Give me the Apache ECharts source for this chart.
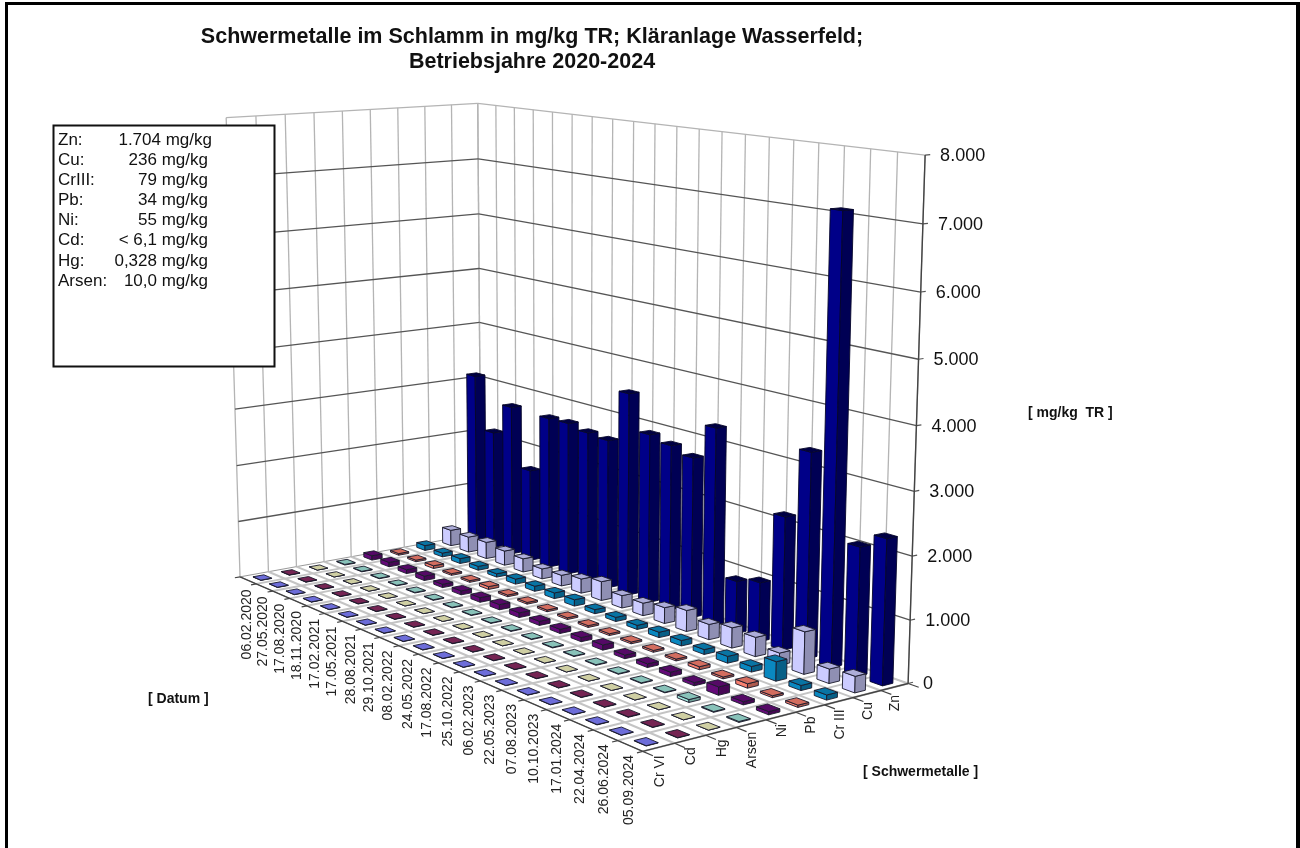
<!DOCTYPE html>
<html><head><meta charset="utf-8">
<style>html,body{margin:0;padding:0;background:#fff}#c{width:1300px;height:848px}</style>
<script src="https://cdn.jsdelivr.net/npm/echarts@6/dist/echarts.min.js"></script>
</head><body><div id="c"></div>
<script>
const titleText = 'Schwermetalle im Schlamm in mg/kg TR; Kläranlage Wasserfeld;\nBetriebsjahre 2020-2024';
const dates = ['06.02.2020','27.05.2020','17.08.2020','18.11.2020','17.02.2021','17.05.2021','28.08.2021','29.10.2021','08.02.2022','24.05.2022','17.08.2022','25.10.2022','06.02.2023','22.05.2023','07.08.2023','10.10.2023','17.01.2024','22.04.2024','26.06.2024','05.09.2024'];
const metals = ['Cr VI','Cd','Hg','Arsen','Ni','Pb','Cr III','Cu','Zn'];
const valueTicks = [0,1000,2000,3000,4000,5000,6000,7000,8000];
const crVI  = [5,5,5,5,5,5,5,5,5,5,5,5,5,5,5,5,5,6,5,5];
const cd    = [6,6,6,6,6,6,6,6,6,6,6,6,6,6,6,6,6,8,6,6];
const hg    = [0.3,0.3,0.3,0.3,0.3,0.3,0.3,0.3,0.3,0.3,0.3,0.3,0.3,0.3,0.3,0.3,0.3,0.5,0.3,0.3];
const arsen = [12,10,10,9,10,11,10,10,9,10,10,11,10,10,10,10,9,45,12,14];
const ni    = [80,80,70,80,60,70,80,90,80,70,70,70,85,60,60,70,50,130,50,50];
const pb    = [30,30,50,30,30,50,30,30,30,30,30,30,30,30,30,50,30,70,30,35];
const crIII = [90,70,90,70,60,90,90,100,110,70,70,70,90,90,80,110,90,310,80,80];
const cu    = [290,280,300,260,240,180,190,250,330,215,215,270,355,255,335,315,200,680,230,260];
const zn    = [3100,2145,2710,1650,2695,2705,2635,2600,3505,2900,2815,2710,3305,875,980,2175,3315,7095,2050,2300];
const metalValues = [crVI,cd,hg,arsen,ni,pb,crIII,cu,zn];
const metalColors = ['#8080ff','#8a2a62','#f4f4c0','#a0e4da','#640a78','#f88070','#0a88c0','#ccccff','#000088'];
const boxLabels = ['Zn:','Cu:','CrIII:','Pb:','Ni:','Cd:','Hg:','Arsen:'];
const boxValues = ['1.704 mg/kg','236 mg/kg','79 mg/kg','34 mg/kg','55 mg/kg','< 6,1 mg/kg','0,328 mg/kg','10,0 mg/kg'];

const fontFam = '"Liberation Sans", Arial, sans-serif';
// camera calibration: cube corner (u,v,w) -> screen
const calib = [
 [0,0,0,240,576],[1,0,0,481,534],[0,1,0,643,752],[1,1,0,908,683],
 [0,0,1,226,118],[1,0,1,478,103],[1,1,1,925,155]
];
function solveCamera(){
  const A=[],b=[];
  calib.forEach(([u,v,w,x,y])=>{x/=1000;y/=1000;
    A.push([u,v,w,1,0,0,0,0,-x*u,-x*v,-x*w]);b.push(x);
    A.push([0,0,0,0,u,v,w,1,-y*u,-y*v,-y*w]);b.push(y);});
  const n=11,M=[];
  for(let i=0;i<n;i++){M[i]=new Array(n+1).fill(0);
    for(let j=0;j<n;j++)for(let k=0;k<A.length;k++)M[i][j]+=A[k][i]*A[k][j];
    for(let k=0;k<A.length;k++)M[i][n]+=A[k][i]*b[k];}
  for(let i=0;i<n;i++){let p=i;for(let r=i+1;r<n;r++)if(Math.abs(M[r][i])>Math.abs(M[p][i]))p=r;
    [M[i],M[p]]=[M[p],M[i]];
    for(let r=0;r<n;r++)if(r!==i){const f=M[r][i]/M[i][i];for(let c=i;c<=n;c++)M[r][c]-=f*M[i][c];}}
  return M.map((r,i)=>r[n]/r[i]);
}
const K=solveCamera();
function P(u,v,w){const d=K[8]*u+K[9]*v+K[10]*w+1;
  return [1000*(K[0]*u+K[1]*v+K[2]*w+K[3])/d,1000*(K[4]*u+K[5]*v+K[6]*w+K[7])/d];}
const GRID=800; // hidden scale grid: axis pixels map 1:1 to unit cube fractions
const uOf=px=>px/GRID, wOf=py=>1-py/GRID;
function shade(hex,f){const n=parseInt(hex.slice(1),16);
  const c=[n>>16,(n>>8)&255,n&255].map(x=>Math.round(x*f));
  return 'rgb('+c.join(',')+')';}
function line(a,b,stroke,lw){return {type:'line',shape:{x1:a[0],y1:a[1],x2:b[0],y2:b[1]},style:{stroke,lineWidth:lw},silent:true};}
function poly(pts,fill,stroke,lw){return {type:'polygon',shape:{points:pts},style:{fill,stroke,lineWidth:lw,lineJoin:'round'},silent:true};}

const BU=0.38, BV=0.48;
function renderBar(params,api){
  const c=api.coord([api.value(0),api.value(2)]);
  const cw=api.size([1,0])[0]/GRID;
  const u0=uOf(c[0]), h=wOf(c[1]);
  const dv=1/dates.length, v0=(api.value(1)+0.5)*dv;
  const hu=BU*cw/2, hv=BV*dv/2;
  const col=metalColors[api.value(0)];
  const a=u0-hu,b=u0+hu,d=v0-hv,e=v0+hv;
  const navy=api.value(0)===8;
  const stroke=navy?'#06062a':'#1a1a2a', lw=0.9;
  return {type:'group',children:[
    poly([P(a,d,0),P(a,e,0),P(a,e,h),P(a,d,h)],shade(col,1),stroke,lw),
    poly([P(a,e,0),P(b,e,0),P(b,e,h),P(a,e,h)],shade(col,navy?0.62:0.7),stroke,lw),
    poly([P(a,d,h),P(a,e,h),P(b,e,h),P(b,d,h)],shade(col,navy?0.5:0.85),stroke,lw)
  ]};
}
function renderFrame(params,api){
  const ch=[];
  const wall='#b4b4b4', hline='#555', floor='#c4c4c4', axis='#444';
  ch.push(poly([P(0,0,0),P(1,0,0),P(1,1,0),P(0,1,0)],'#fff','#999',1));
  metals.forEach((m,i)=>{const u=(i+1)/metals.length;
    ch.push(line(P(u,0,0),P(u,1,0),floor,2));
    ch.push(line(P(u,0,0),P(u,0,1),wall,1.3));});
  dates.forEach((m,i)=>{const v=(i+1)/dates.length;
    ch.push(line(P(0,v,0),P(1,v,0),floor,2));
    ch.push(line(P(1,v,0),P(1,v,1),wall,1.3));});
  ch.push(line(P(0,0,0),P(0,0,1),wall,1.3));
  ch.push(line(P(1,0,0),P(1,0,1),wall,1.3));
  valueTicks.forEach(t=>{
    const w=wOf(api.coord([0,t])[1]), s=t===valueTicks[valueTicks.length-1]?wall:hline;
    if(t>0){ch.push(line(P(0,0,w),P(1,0,w),s,1.3));ch.push(line(P(1,0,w),P(1,1,w),s,1.3));}
    const q=P(1,1,w);
    ch.push(line(q,P(1.02,1,w),hline,1.2));
    ch.push({type:'text',silent:true,style:{x:q[0]+15,y:q[1]+1,text:t===0?'0':(t/1000)+'.000',textAlign:'left',textVerticalAlign:'middle',font:'18px '+fontFam,fill:'#111'}});
  });
  ch.push(line(P(0,0,0),P(0,1,0),axis,1.4));
  ch.push(line(P(0,1,0),P(1,1,0),axis,1.4));
  ch.push(line(P(1,1,0),P(1,1,1),axis,1.4));
  metals.forEach((m,i)=>{
    ch.push(line(P(i/metals.length,1,0),P(i/metals.length,1.02,0),axis,1.2));
    const q=P((i+0.5)/metals.length,1,0);
    ch.push({type:'text',silent:true,x:q[0]+1,y:q[1]+8,rotation:Math.PI/2,style:{text:m,textAlign:'right',textVerticalAlign:'middle',font:'14px '+fontFam,fill:'#222'}});
  });
  ch.push(line(P(1,1,0),P(1,1.02,0),axis,1.2));
  dates.forEach((m,i)=>{
    ch.push(line(P(0,i/dates.length,0),P(-0.02,i/dates.length,0),axis,1.2));
    const q=P(0,(i+0.5)/dates.length,0);
    ch.push({type:'text',silent:true,x:q[0]-1,y:q[1]+9,rotation:Math.PI/2,style:{text:m,textAlign:'right',textVerticalAlign:'middle',font:'14px '+fontFam,fill:'#222'}});
  });
  ch.push(line(P(0,1,0),P(-0.02,1,0),axis,1.2));
  return {type:'group',children:ch};
}

const barSeries=metals.map((m,i)=>i).reverse().map(i=>({
  type:'custom',name:metals[i],coordinateSystem:'cartesian2d',renderItem:renderBar,clip:false,animation:false,silent:true,
  encode:{x:0,y:2},
  data:metalValues[i].map((val,d)=>[i,d,val])
}));
const boxText=[];
boxLabels.forEach((t,i)=>{const y=140+i*20.15;
  boxText.push({type:'text',z:101,style:{x:58,y,text:t,textVerticalAlign:'middle',font:'17px '+fontFam,fill:'#111'}});
  boxText.push({type:'text',z:101,style:{x:i===0?212:208,y,text:boxValues[i],textAlign:'right',textVerticalAlign:'middle',font:'17px '+fontFam,fill:'#111'}});
});
const chart=echarts.init(document.getElementById('c'),null,{width:1300,height:848});
chart.setOption({
  animation:false,backgroundColor:'#fff',
  title:{text:titleText,left:527,textAlign:'center',top:20,textStyle:{fontFamily:fontFam,fontSize:21.5,fontWeight:'bold',color:'#111',lineHeight:25}},
  grid:{left:0,top:0,width:GRID,height:GRID,show:false,containLabel:false},
  xAxis:{type:'category',data:metals,show:false,boundaryGap:true},
  yAxis:{type:'value',min:0,max:8000,interval:1000,show:false},
  series:[{type:'custom',name:'frame',coordinateSystem:'cartesian2d',renderItem:renderFrame,clip:false,silent:true,data:[[0,0]],z:1}]
    .concat(barSeries.map(s=>Object.assign(s,{z:2}))),
  graphic:[
    {type:'rect',z:100,shape:{x:53.5,y:125.5,width:221,height:241},style:{fill:'#fff',stroke:'#111',lineWidth:2}},
    ...boxText,
    {type:'text',z:100,style:{x:1028,y:413,text:'[ mg/kg  TR ]',textVerticalAlign:'middle',font:'bold 14px '+fontFam,fill:'#111'}},
    {type:'text',z:100,style:{x:148,y:699,text:'[ Datum ]',textVerticalAlign:'middle',font:'bold 14px '+fontFam,fill:'#111'}},
    {type:'text',z:100,style:{x:863,y:772,text:'[ Schwermetalle ]',textVerticalAlign:'middle',font:'bold 14px '+fontFam,fill:'#111'}},
    {type:'rect',z:100,shape:{x:5,y:2,width:1295,height:3},style:{fill:'#000'}},
    {type:'rect',z:100,shape:{x:5,y:2,width:3,height:846},style:{fill:'#000'}},
    {type:'rect',z:100,shape:{x:1296,y:2,width:4,height:846},style:{fill:'#000'}}
  ]
});
</script></body></html>
